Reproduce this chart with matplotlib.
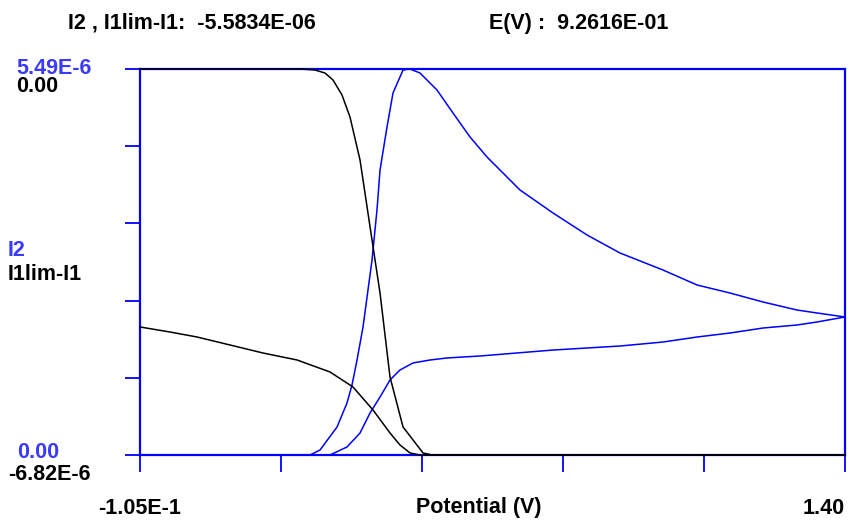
import matplotlib.pyplot as plt

# potential (V) and currents (uA)
e_peak = [-0.105, 0.2579, 0.2793, 0.3156, 0.3369, 0.3476, 0.3583, 0.3711, 0.3903, 0.4009,
          0.4074, 0.4223, 0.4351, 0.4565, 0.4714, 0.4927, 0.5290, 0.5632, 0.5995, 0.6358,
          0.6699, 0.7062, 0.7767, 0.8493, 0.9197, 1.0115, 1.0841, 1.1545, 1.2250, 1.2976,
          1.3403, 1.400]
i2_peak = [0.0, 0.0, 0.071, 0.398, 0.740, 0.996, 1.351, 1.821, 2.773, 3.485,
           4.053, 4.665, 5.149, 5.476, 5.49, 5.433, 5.191, 4.864, 4.523, 4.238,
           4.011, 3.769, 3.442, 3.129, 2.873, 2.631, 2.418, 2.304, 2.176, 2.062,
           2.020, 1.963]

e_plat = [-0.105, 0.3006, 0.3369, 0.3647, 0.3860, 0.4074, 0.4287, 0.4500, 0.4778, 0.5141,
          0.5504, 0.6208, 0.7767, 0.9197, 1.0115, 1.0841, 1.1545, 1.2250, 1.2976, 1.3403,
          1.400]
i2_plat = [0.0, 0.0, 0.114, 0.313, 0.597, 0.825, 1.067, 1.209, 1.309, 1.351,
           1.380, 1.408, 1.493, 1.550, 1.607, 1.678, 1.735, 1.806, 1.849, 1.892,
           1.963]

e_s = [-0.105, 0.2366, 0.2686, 0.2899, 0.3070, 0.3262, 0.3433, 0.3647, 0.3903, 0.4074,
       0.4287, 0.4565, 0.4992, 0.5184, 1.400]
i1_s = [0.0, 0.0, -0.018, -0.071, -0.194, -0.459, -0.848, -1.608, -3.021, -3.958,
        -5.442, -6.325, -6.784, -6.82, -6.82]

e_tail = [-0.105, -0.0410, 0.0167, 0.0871, 0.1576, 0.2302, 0.3006, 0.3497, 0.3924, 0.4287,
          0.4500, 0.4714, 0.4927, 1.400]
i1_tail = [-4.558, -4.647, -4.735, -4.876, -5.018, -5.141, -5.353, -5.618, -6.025, -6.431,
           -6.643, -6.784, -6.82, -6.82]

x_ticks = [-0.105, 0.196, 0.497, 0.798, 1.099, 1.400]
blue = '#0000ff'
tblue = '#3a3aff'
plt.rcParams['font.family'] = 'Liberation Sans'
plt.rcParams['font.weight'] = 'bold'

fig = plt.figure(figsize=(8.54, 5.21), dpi=100)
ax = fig.add_axes([140 / 854, 66 / 521, 705 / 854, 386 / 521])
ax.set_xlim(-0.105, 1.40)
ax.set_ylim(0, 5.49)
ax.plot(e_peak, i2_peak, color=blue, lw=1.1, clip_on=False, zorder=3)
ax.plot(e_plat, i2_plat, color=blue, lw=1.1, clip_on=False, zorder=3)

ax2 = ax.twinx()
ax2.set_ylim(-6.82, 0)
ax2.plot(e_s, i1_s, color='black', lw=1.1, clip_on=False, zorder=3)
ax2.plot(e_tail, i1_tail, color='black', lw=1.1, clip_on=False, zorder=3)
ax2.set_yticks([])
for sp in ax2.spines.values():
    sp.set_visible(False)

for sp in ax.spines.values():
    sp.set_color(blue)
    sp.set_linewidth(1.6)
ax.set_xticks(x_ticks)
ax.set_yticks([5.49 * k / 5 for k in range(6)])
ax.tick_params(axis='x', direction='out', length=12, width=1.3, color=blue, labelbottom=False)
ax.tick_params(axis='y', direction='out', length=11, width=1.3, color=blue, labelleft=False)

fs = 15.5
def put(x, y, s, **kw):
    fig.text(x / 854, 1 - y / 521, s, fontsize=fs, va='center', **kw)

put(68, 23, 'I2 , I1lim-I1:  -5.5834E-06')
put(668, 23, 'E(V) :  9.2616E-01', ha='right')
put(16, 68, '5.49E-6', color=tblue)
put(16, 87, '0.00')
put(8, 250, 'I2', color=tblue)
put(8, 275, 'I1lim-I1')
put(17, 453, '0.00', color=tblue)
put(8, 474, '-6.82E-6')
put(140, 508, '-1.05E-1', ha='center')
put(479, 508, 'Potential (V)', ha='center')
put(845, 508, '1.40', ha='right')

fig.savefig('out.png', dpi=100)
